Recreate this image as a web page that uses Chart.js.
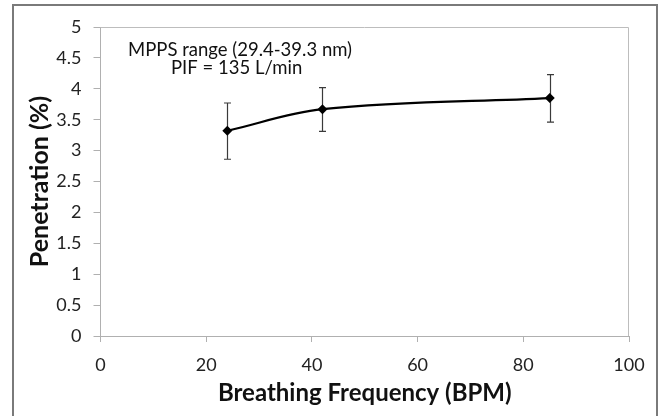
<!DOCTYPE html>
<html>
<head>
<meta charset="utf-8">
<script src="https://cdn.jsdelivr.net/npm/chart.js@4/dist/chart.umd.min.js"></script>
<style>
  html, body { margin: 0; padding: 0; background: #fff; overflow: hidden; }
  #marco { position: absolute; left: 0; top: 0; width: 665px; height: 416px; }
  #borde { position: absolute; left: 12px; top: 4px; width: 646px; height: 430px; border: 2px solid #7a7a7a; box-sizing: border-box; pointer-events: none; }
</style>
</head>
<body>
<div id="marco"><canvas id="grafico" width="665" height="416"></canvas></div>
<div id="borde"></div>
<script>
// datos
const frecuencias = [24, 42, 85]
const penetracion = [3.32, 3.67, 3.85]
const errorBajo = [2.86, 3.31, 3.46]
const errorAlto = [3.77, 4.02, 4.23]
const notas = ['MPPS range (29.4-39.3 nm)', 'PIF = 135 L/min']

const fuente = 'Lato, "Open Sans", sans-serif'

// marco gris del area de trazado
const bordeArea = {
  id: 'bordeArea',
  beforeDatasetsDraw(chart) {
    const { ctx, chartArea: a } = chart
    ctx.save()
    ctx.strokeStyle = '#bdbdbd'
    ctx.lineWidth = 1
    ctx.beginPath()
    ctx.moveTo(a.left, a.top + 0.5)
    ctx.lineTo(a.right - 0.5, a.top + 0.5)
    ctx.lineTo(a.right - 0.5, a.bottom)
    ctx.stroke()
    ctx.restore()
  }
}

// barras de error
const barrasError = {
  id: 'barrasError',
  beforeDatasetsDraw(chart) {
    const { ctx, scales } = chart
    ctx.save()
    ctx.strokeStyle = '#3a3a3a'
    ctx.lineWidth = 1.2
    frecuencias.forEach((f, i) => {
      const x = Math.round(scales.x.getPixelForValue(f)) + 0.5
      const y1 = scales.y.getPixelForValue(errorBajo[i])
      const y2 = scales.y.getPixelForValue(errorAlto[i])
      ctx.beginPath()
      ctx.moveTo(x, y1); ctx.lineTo(x, y2)
      ctx.moveTo(x - 3.5, y1); ctx.lineTo(x + 3.5, y1)
      ctx.moveTo(x - 3.5, y2); ctx.lineTo(x + 3.5, y2)
      ctx.stroke()
    })
    ctx.restore()
  }
}

// texto dentro del grafico
const textoNotas = {
  id: 'textoNotas',
  afterDraw(chart) {
    const { ctx } = chart
    ctx.save()
    ctx.fillStyle = '#111'
    ctx.font = '18.5px ' + fuente
    ctx.textBaseline = 'alphabetic'
    ctx.fillText(notas[0], 128, 56)
    ctx.fillText(notas[1], 171, 74)
    ctx.restore()
  }
}

new Chart(document.getElementById('grafico'), {
  type: 'line',
  data: {
    datasets: [{
      data: frecuencias.map((f, i) => ({ x: f, y: penetracion[i] })),
      borderColor: '#000',
      backgroundColor: '#000',
      borderWidth: 2.2,
      tension: 0.35,
      pointStyle: 'rectRot',
      pointRadius: 5,
      pointBorderWidth: 0
    }]
  },
  options: {
    responsive: false,
    animation: false,
    layout: { padding: { top: 27, right: 36, left: 0, bottom: 0 } },
    plugins: { legend: { display: false }, tooltip: { enabled: false } },
    scales: {
      x: {
        type: 'linear',
        min: 0, max: 100,
        ticks: { stepSize: 20, color: '#222', font: { family: fuente, size: 18 }, padding: 12 },
        grid: { drawOnChartArea: false, color: '#b0b0b0', tickLength: 6 },
        border: { color: '#b0b0b0' },
        title: { display: true, text: 'Breathing Frequency (BPM)', color: '#111', font: { family: fuente, size: 24, weight: 'bold' }, padding: { top: 0, bottom: 8 } },
        afterFit(s) { s.height = 80 }
      },
      y: {
        min: 0, max: 5,
        ticks: { stepSize: 0.5, color: '#222', font: { family: fuente, size: 18 }, padding: 12, callback: v => String(v) },
        grid: { drawOnChartArea: false, color: '#b0b0b0', tickLength: 7 },
        border: { color: '#b0b0b0' },
        title: { display: true, text: 'Penetration (%)', color: '#111', font: { family: fuente, size: 25, weight: 'bold' }, padding: { top: 25, bottom: 0 } },
        afterFit(s) { s.width = 100.5 }
      }
    }
  },
  plugins: [bordeArea, barrasError, textoNotas]
})
</script>
</body>
</html>
